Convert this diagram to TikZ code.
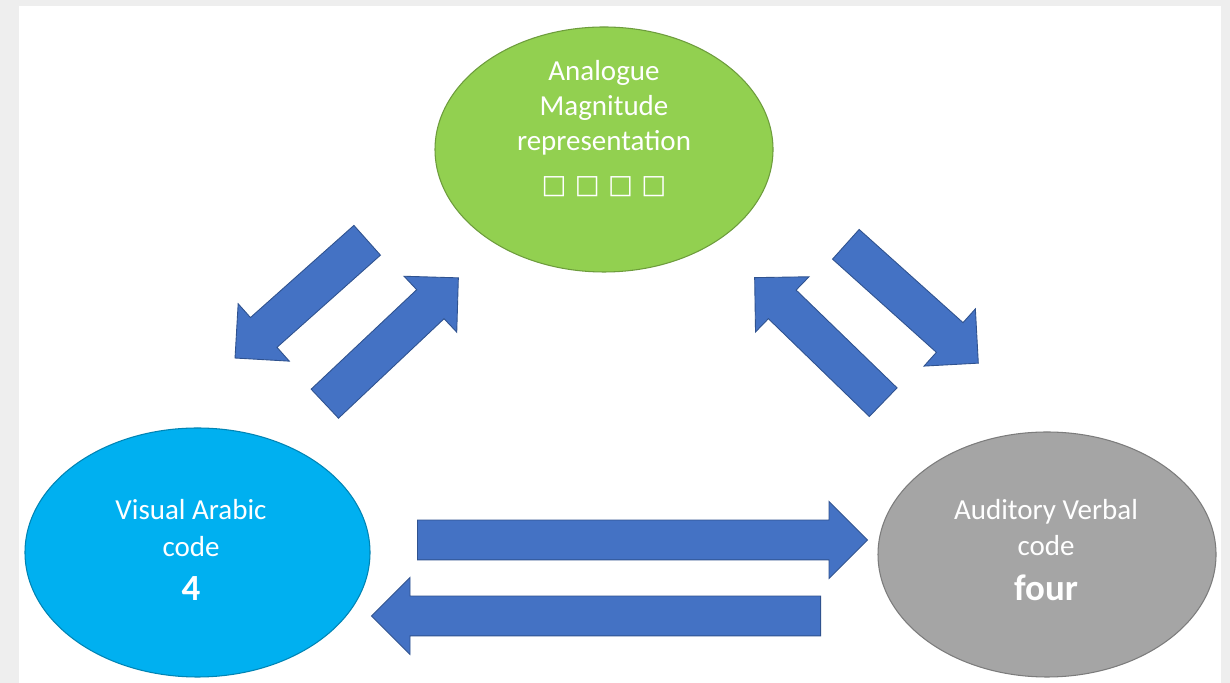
\documentclass[tikz,border=0pt]{standalone}
\usepackage{fontspec}
\setmainfont{Carlito}
\newfontfamily\symfont{DejaVu Sans}
\usetikzlibrary{shapes.geometric,shapes.arrows}
\definecolor{amgreen}{HTML}{92D050}
\definecolor{vablue}{HTML}{00B0F0}
\definecolor{avgray}{HTML}{A5A5A5}
\definecolor{arrowblue}{HTML}{4472C4}
\definecolor{arrowedge}{HTML}{2F528F}
\definecolor{pagegray}{HTML}{EEEEEE}

\begin{document}
\begin{tikzpicture}[
        codeoval/.style={ellipse, draw=#1!75!black, fill=#1, line width=0.6pt, inner sep=0pt},
        blockarrow/.style={single arrow, fill=arrowblue, draw=arrowedge, line width=0.5pt,
                           minimum height=#1, minimum width=1.52cm,
                           single arrow head extend=0.37cm,
                           inner xsep=0pt, inner ysep=0.39cm, anchor=tail},
        lbl/.style={text=white, align=center, font=\fontsize{16.5}{21}\selectfont}
    ]
    \useasboundingbox (0,0) rectangle (24.6,13.66);
    \fill[pagegray] (0,0) rectangle (24.6,13.66);
    \fill[white] (0.38,0) rectangle (24.42,13.54);

    % the three codes
    \node[codeoval=amgreen, minimum width=6.76cm, minimum height=4.9cm] (analog) at (12.08,10.67) {};
    \node[codeoval=vablue, minimum width=6.9cm, minimum height=4.98cm] (arabic) at (3.95,2.61) {};
    \node[codeoval=avgray, minimum width=6.76cm, minimum height=4.9cm] (verbal) at (20.94,2.57) {};

    \node[lbl, font=\fontsize{16.5}{20}\selectfont] (analogtxt) at ([yshift=0.83cm]analog.center)
        {Analogue\\Magnitude\\representation};
    \node[lbl, font=\symfont\fontsize{15}{18}\selectfont] (analogdots) at ([yshift=-0.75cm]analog.center)
        {□ □ □ □};
    \node[lbl] (arabictxt) at ([xshift=-0.13cm,yshift=0.05cm]arabic.center)
        {Visual Arabic\\code\\[4.5pt]{\bfseries\fontsize{21}{24}\selectfont 4}};
    \node[lbl] (verbaltxt) at ([xshift=-0.02cm,yshift=0.09cm]verbal.center)
        {Auditory Verbal\\code\\[4.5pt]{\bfseries\fontsize{21}{24}\selectfont four}};

    % block arrows between the codes, placed by their tails
    \node[blockarrow=9cm] (arabic2verbal) at (8.34,2.86) {};
    \node[blockarrow=8.98cm, rotate=180] (verbal2arabic) at (16.42,1.34) {};
    \node[blockarrow=3.54cm, rotate=221.7] (analog2arabic) at (7.35,8.86) {};
    \node[blockarrow=3.67cm, rotate=43.3] (arabic2analog) at (6.49,5.58) {};
    \node[blockarrow=3.58cm, rotate=135.9] (verbal2analog) at (17.67,5.61) {};
    \node[blockarrow=3.56cm, rotate=-41.9] (analog2verbal) at (16.91,8.78) {};
\end{tikzpicture}
\end{document}
